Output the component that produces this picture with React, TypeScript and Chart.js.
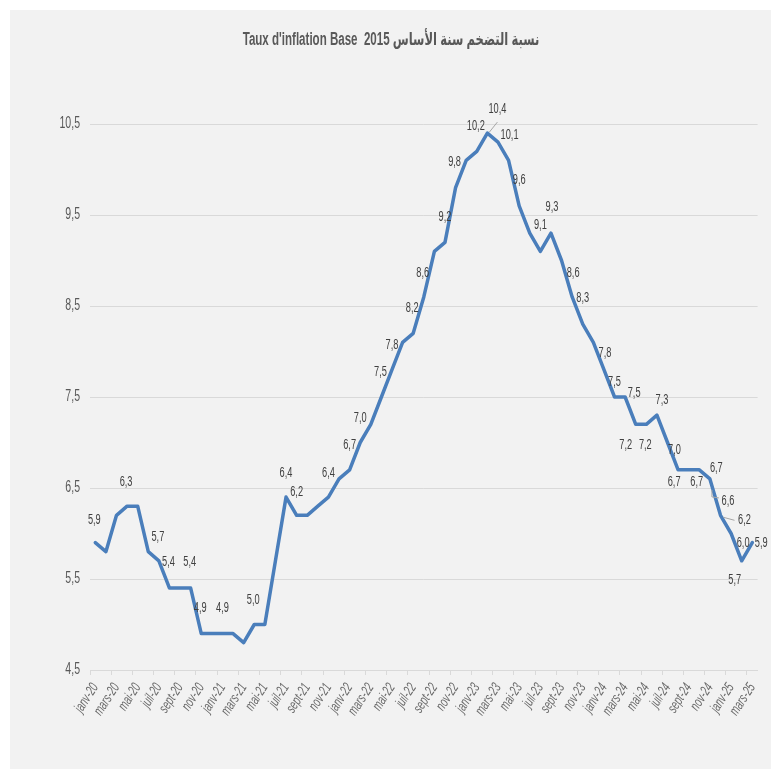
import React, { useEffect, useRef } from 'react';
import { Chart, registerables } from 'chart.js';

Chart.register(...registerables);

const FONT = "'Liberation Sans', 'DejaVu Sans', sans-serif";
const CONDENSE = 0.66;

const titleText = "Taux d'inflation Base  2015 نسبة التضخم سنة الأساس";

const categories = [
  'janv-20', 'févr-20', 'mars-20', 'avr-20', 'mai-20', 'juin-20', 'juil-20', 'août-20', 'sept-20', 'oct-20', 'nov-20', 'déc-20',
  'janv-21', 'févr-21', 'mars-21', 'avr-21', 'mai-21', 'juin-21', 'juil-21', 'août-21', 'sept-21', 'oct-21', 'nov-21', 'déc-21',
  'janv-22', 'févr-22', 'mars-22', 'avr-22', 'mai-22', 'juin-22', 'juil-22', 'août-22', 'sept-22', 'oct-22', 'nov-22', 'déc-22',
  'janv-23', 'févr-23', 'mars-23', 'avr-23', 'mai-23', 'juin-23', 'juil-23', 'août-23', 'sept-23', 'oct-23', 'nov-23', 'déc-23',
  'janv-24', 'févr-24', 'mars-24', 'avr-24', 'mai-24', 'juin-24', 'juil-24', 'août-24', 'sept-24', 'oct-24', 'nov-24', 'déc-24',
  'janv-25', 'févr-25', 'mars-25',
];

const inflation = [
  5.9, 5.8, 6.2, 6.3, 6.3, 5.8, 5.7, 5.4, 5.4, 5.4,
  4.9, 4.9, 4.9, 4.9, 4.8, 5.0, 5.0, 5.7, 6.4, 6.2,
  6.2, 6.3, 6.4, 6.6, 6.7, 7.0, 7.2, 7.5, 7.8, 8.1,
  8.2, 8.6, 9.1, 9.2, 9.8, 10.1, 10.2, 10.4, 10.3, 10.1,
  9.6, 9.3, 9.1, 9.3, 9.0, 8.6, 8.3, 8.1, 7.8, 7.5,
  7.5, 7.2, 7.2, 7.3, 7.0, 6.7, 6.7, 6.7, 6.6, 6.2,
  6.0, 5.7, 5.9,
];

const yTicks = [4.5, 5.5, 6.5, 7.5, 8.5, 9.5, 10.5];

// which points carry a value label
const labelledPoints = [0, 3, 6, 7, 9, 10, 12, 15, 18, 19, 22, 24, 25, 27, 28, 30, 31, 33, 34, 36, 37, 39, 40, 42, 43, 45, 46, 48, 49, 50, 51, 52, 53, 54, 55, 56, 57, 58, 59, 60, 61, 62];

// label placement relative to its point (style / layout only)
const placement: Record<number, { dx: number; dy: number; leader?: number[][] }> = {
  0: { dx: -1, dy: -22 }, 3: { dx: -1, dy: -24 }, 6: { dx: -1, dy: -24 }, 7: { dx: -1, dy: -26 },
  9: { dx: -1, dy: -26 }, 10: { dx: -1, dy: -25 }, 12: { dx: 0, dy: -25 }, 15: { dx: -1, dy: -24 },
  18: { dx: 0, dy: -24 }, 19: { dx: 0, dy: -23 }, 22: { dx: 0, dy: -24 }, 24: { dx: 0, dy: -25 },
  25: { dx: 0, dy: -24 }, 27: { dx: -1, dy: -25 }, 28: { dx: 0, dy: -25 }, 30: { dx: -1, dy: -25 },
  31: { dx: -1, dy: -24 }, 33: { dx: 0, dy: -25 }, 34: { dx: -1, dy: -26 }, 36: { dx: -1, dy: -25 },
  37: { dx: 10, dy: -24, leader: [[2, -1], [10, -11]] },
  39: { dx: 1, dy: -25 }, 40: { dx: 0, dy: -26 }, 42: { dx: 0, dy: -26 }, 43: { dx: 1, dy: -26 },
  45: { dx: 1, dy: -24 }, 46: { dx: 0, dy: -26 }, 48: { dx: 1, dy: -17 }, 49: { dx: 0, dy: -15 },
  50: { dx: 9, dy: -4 }, 51: { dx: -10, dy: 21 }, 52: { dx: -1, dy: 21 }, 53: { dx: 5, dy: -15 },
  54: { dx: 7, dy: 8 }, 55: { dx: -4, dy: 12 }, 56: { dx: 8, dy: 12 }, 57: { dx: 17, dy: -2 },
  58: { dx: 18, dy: 22, leader: [[2, 11], [2, 18], [9, 19]] },
  59: { dx: 24, dy: 5, leader: [[3, 2], [14, 5]] },
  60: { dx: 12, dy: 10 }, 61: { dx: -7, dy: 19 }, 62: { dx: 9, dy: 1 },
};

const fmt = (v: number) => v.toFixed(1).replace('.', ',');

// draw all canvas text horizontally condensed (narrow typeface look)
function condenseText(ctx: any, s: number) {
  const origFill = ctx.fillText.bind(ctx);
  const origMeasure = ctx.measureText.bind(ctx);
  ctx.fillText = (text: string, x: number, y: number, maxWidth?: number) => {
    ctx.save();
    ctx.translate(x, y);
    ctx.scale(s, 1);
    if (maxWidth !== undefined) origFill(text, 0, 0, maxWidth / s);
    else origFill(text, 0, 0);
    ctx.restore();
  };
  ctx.measureText = (text: string) => {
    const m = origMeasure(text);
    return {
      width: m.width * s,
      actualBoundingBoxAscent: m.actualBoundingBoxAscent,
      actualBoundingBoxDescent: m.actualBoundingBoxDescent,
      actualBoundingBoxLeft: m.actualBoundingBoxLeft * s,
      actualBoundingBoxRight: m.actualBoundingBoxRight * s,
      fontBoundingBoxAscent: m.fontBoundingBoxAscent,
      fontBoundingBoxDescent: m.fontBoundingBoxDescent,
    };
  };
}

const valueLabels = {
  id: 'valueLabels',
  afterDatasetsDraw(chart: any) {
    const meta = chart.getDatasetMeta(0);
    const ctx = chart.ctx as CanvasRenderingContext2D;
    ctx.save();
    ctx.font = `14px ${FONT}`;
    ctx.textAlign = 'center';
    ctx.textBaseline = 'middle';
    for (const i of labelledPoints) {
      const el = meta.data[i];
      if (!el) continue;
      const p = placement[i] || { dx: 0, dy: -24 };
      if (p.leader) {
        ctx.strokeStyle = '#a6a6a6';
        ctx.lineWidth = 1;
        ctx.beginPath();
        p.leader.forEach(([lx, ly], k) => {
          if (k === 0) ctx.moveTo(el.x + lx, el.y + ly);
          else ctx.lineTo(el.x + lx, el.y + ly);
        });
        ctx.stroke();
      }
      ctx.fillStyle = '#404040';
      ctx.fillText(fmt(inflation[i]), el.x + p.dx, el.y + p.dy);
    }
    ctx.restore();
  },
};

export default function App() {
  const ref = useRef<HTMLCanvasElement>(null);

  useEffect(() => {
    if (!ref.current) return;
    const ctx2d = ref.current.getContext('2d');
    condenseText(ctx2d, CONDENSE);
    const chart = new Chart(ctx2d as any, {
      type: 'line',
      data: {
        labels: categories,
        datasets: [
          {
            label: 'Inflation',
            data: inflation,
            borderColor: '#4a7ebb',
            borderWidth: 3.5,
            borderJoinStyle: 'round',
            borderCapStyle: 'round',
            pointRadius: 0,
            pointHoverRadius: 0,
            tension: 0,
            fill: false,
          },
        ],
      },
      options: {
        responsive: false,
        animation: false,
        devicePixelRatio: 1,
        layout: { padding: { top: 0, right: 14, bottom: 0, left: 14 } },
        plugins: {
          legend: { display: false },
          tooltip: { enabled: false },
          title: {
            display: true,
            text: titleText,
            color: '#595959',
            font: { family: FONT, size: 17.5, weight: 'bold' },
            padding: { top: 20, bottom: 73 },
          },
        },
        scales: {
          x: {
            type: 'category',
            offset: true,
            grid: {
              offset: true,
              drawOnChartArea: false,
              drawTicks: true,
              tickLength: 5,
              lineWidth: 1,
              color: (c: any) => (typeof c.index === 'number' && c.index % 2 === 0 ? '#d9d9d9' : 'rgba(0,0,0,0)'),
            },
            border: { display: true, color: '#d9d9d9', width: 1 },
            ticks: {
              autoSkip: false,
              maxRotation: 57,
              minRotation: 57,
              padding: 5,
              color: '#6b6b6b',
              font: { family: FONT, size: 14.5, style: 'italic' },
              callback: (_v: any, i: number) => (i % 2 === 0 ? categories[i] : ''),
            },
            afterFit: (s: any) => {
              s.height = 99;
            },
          },
          y: {
            type: 'linear',
            min: 4.5,
            max: 10.5,
            afterBuildTicks: (s: any) => {
              s.ticks = yTicks.map((v) => ({ value: v }));
            },
            grid: { color: '#d9d9d9', lineWidth: 1, drawTicks: false },
            border: { display: false },
            ticks: {
              padding: 10,
              color: '#595959',
              font: { family: FONT, size: 16 },
              callback: (v: any) => fmt(Number(v)),
            },
            afterFit: (s: any) => {
              s.width = 66;
            },
          },
        },
      },
      plugins: [valueLabels],
    });
    return () => chart.destroy();
  }, []);

  return (
    <div style={{ padding: '2px 0 0 2px' }}>
      <canvas
        ref={ref}
        width={762}
        height={759}
        style={{ display: 'block', background: '#f2f2f2', width: 762, height: 759 }}
      />
    </div>
  );
}
